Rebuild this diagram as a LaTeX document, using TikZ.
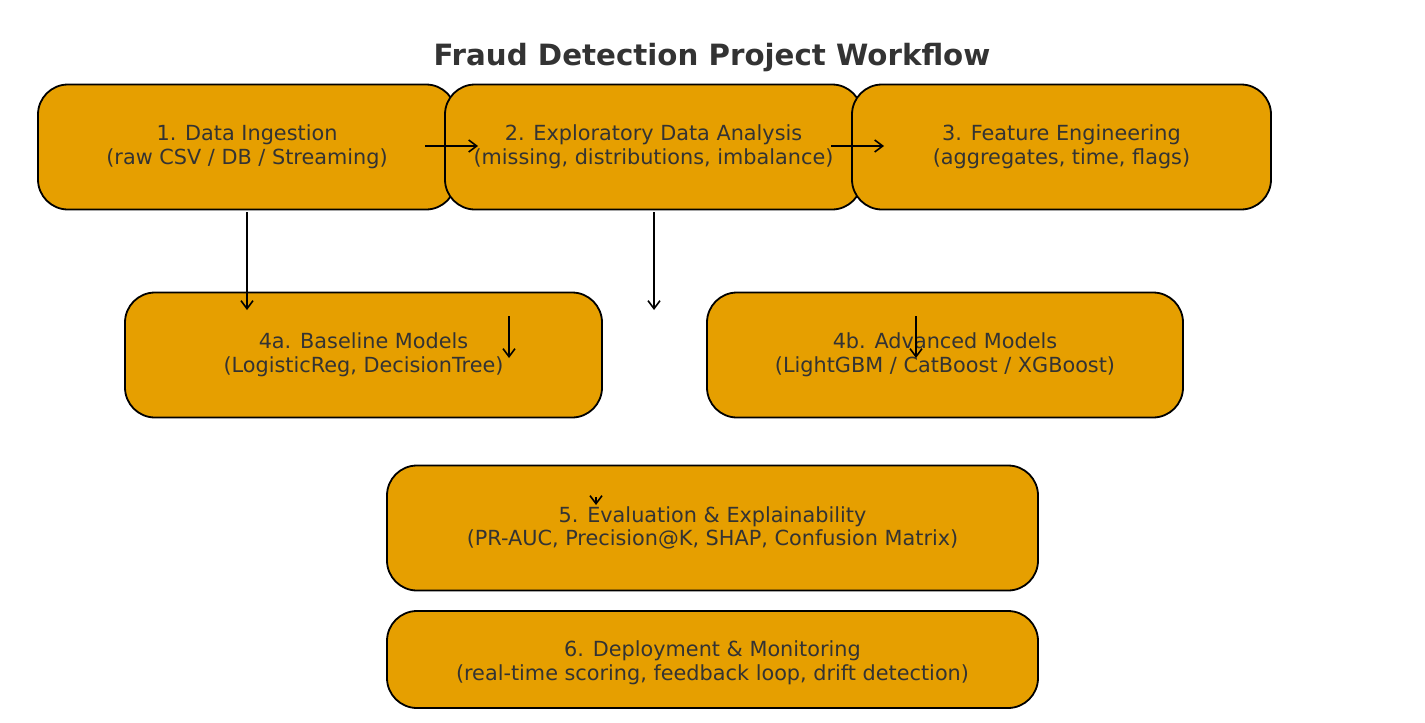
\documentclass[tikz,border=0pt]{standalone}
\usepackage{fontspec}
\setmainfont{DejaVu Sans}
\usetikzlibrary{arrows.meta}
\definecolor{boxfill}{HTML}{E69F00}
\definecolor{txt}{HTML}{333333}
\tikzset{
  boxtext/.style={text=txt, align=center, inner sep=0pt,
    font=\fontsize{20.8pt}{23.5pt}\selectfont},
  stagebox/.style={boxtext, draw=black, line width=1.8pt, fill=boxfill, rounded corners=30pt,
    minimum height=125pt},
  flow/.style={line width=1.8pt, -{Straight Barb[length=8pt,width=12pt,line width=1.6pt]}}
}
\begin{document}
\begin{tikzpicture}[x=1pt,y=-1pt]
\useasboundingbox (0,0) rectangle (1425,723);
\node[font=\fontsize{29.3pt}{34pt}\selectfont\bfseries, text=txt] (title) at (712,58) {Fraud Detection Project Workflow};
\node[stagebox, minimum width=418pt] (s1) at (247,147) {1. Data Ingestion\\(raw CSV / DB / Streaming)};
\node[stagebox, minimum width=417pt] (s2) at (653.5,147) {2. Exploratory Data Analysis\\(missing, distributions, imbalance)};
\node[stagebox, minimum width=419pt] (s3) at (1061.5,147) {3. Feature Engineering\\(aggregates, time, flags)};
\node[stagebox, minimum width=477pt] (s4a) at (363.5,355) {4a. Baseline Models\\(LogisticReg, DecisionTree)};
\node[stagebox, minimum width=476pt] (s4b) at (945,355) {4b. Advanced Models\\(LightGBM / CatBoost / XGBoost)};
\node[stagebox, minimum width=651pt] (s5) at (712.5,528) {5. Evaluation \& Explainability\\(PR-AUC, Precision@K, SHAP, Confusion Matrix)};
\node[stagebox, minimum width=651pt, minimum height=97pt] (s6box) at (712.5,659.5) {};
\node[boxtext] (s6) at (712.5,663) {6. Deployment \& Monitoring\\(real-time scoring, feedback loop, drift detection)};
\coordinate (a1s) at (425,146); \coordinate (a1e) at (478,146);
\coordinate (a2s) at (831,146); \coordinate (a2e) at (884,146);
\coordinate (a3s) at (247,212); \coordinate (a3e) at (247,310);
\coordinate (a4s) at (654,212); \coordinate (a4e) at (654,310);
\coordinate (a5s) at (509,316); \coordinate (a5e) at (509,358);
\coordinate (a6s) at (916,316); \coordinate (a6e) at (916,358);
\coordinate (a7s) at (596,497); \coordinate (a7e) at (596,505);
\draw[flow] (a1s) -- (a1e);
\draw[flow] (a2s) -- (a2e);
\draw[flow] (a3s) -- (a3e);
\draw[flow] (a4s) -- (a4e);
\draw[flow] (a5s) -- (a5e);
\draw[flow] (a6s) -- (a6e);
\draw[flow] (a7s) -- (a7e);
\end{tikzpicture}
\end{document}
